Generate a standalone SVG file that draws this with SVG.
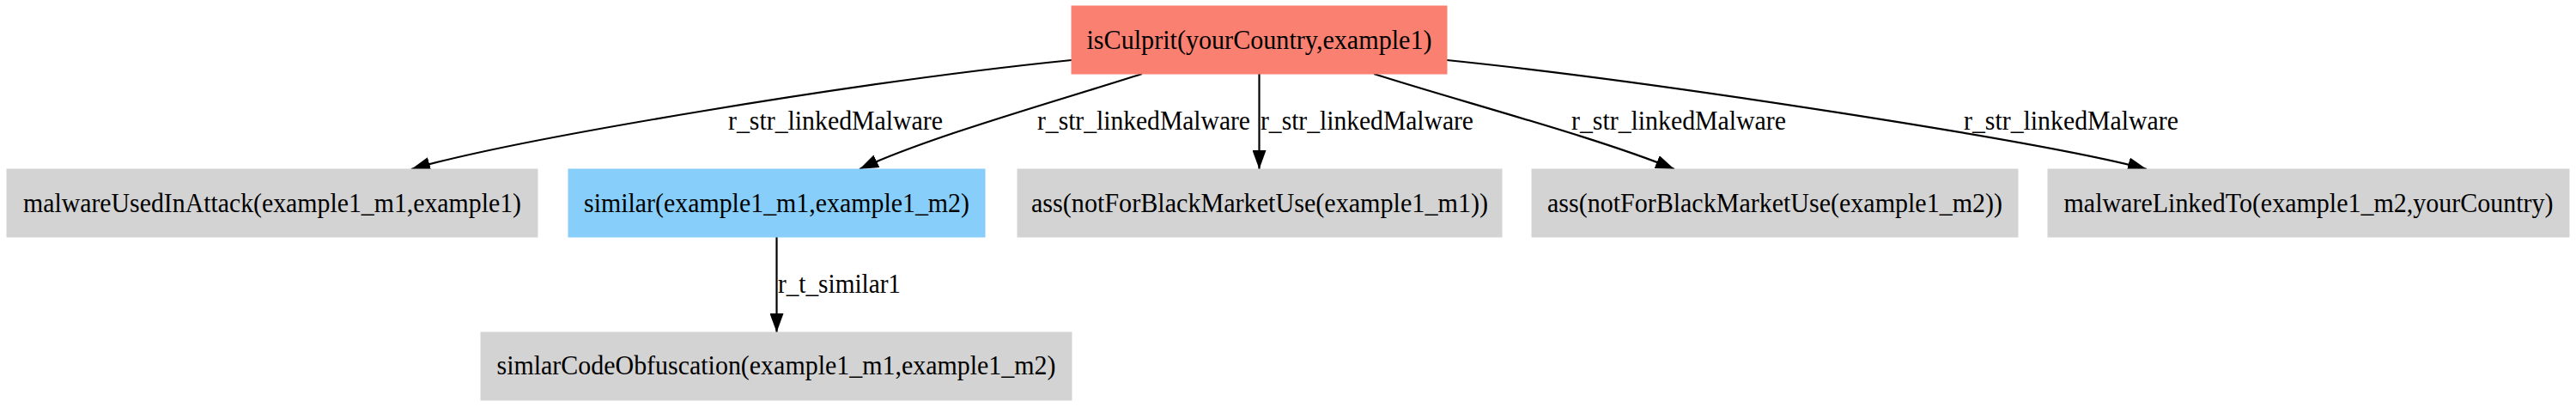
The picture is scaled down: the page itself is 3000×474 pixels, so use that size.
<svg xmlns="http://www.w3.org/2000/svg" width="3000" height="474" viewBox="0 0 3000 474">
<style>
text{font-family:"Liberation Serif","Times New Roman",serif;font-size:32px;fill:#000}
.n{text-anchor:middle}
.e{fill:none;stroke:#000;stroke-width:2.2}
.gray{fill:#D3D3D3;stroke:#D3D3D3}
</style>
<defs>
<marker id="arr" viewBox="0 0 22 16" refX="22" refY="8" markerWidth="22" markerHeight="16" markerUnits="userSpaceOnUse" orient="auto">
<path d="M0,0 L22,8 L0,16 z" fill="#000"/>
</marker>
</defs>
<rect width="3000" height="474" fill="#fff"/>
<g id="edges">
<path class="e" d="M1248,70 C1000,95 600,162 479,197" marker-end="url(#arr)"/>
<path class="e" d="M1330,86 C1230,118 1080,160 1001,197" marker-end="url(#arr)"/>
<path class="e" d="M1466.5,86 L1466.5,197" marker-end="url(#arr)"/>
<path class="e" d="M1600,86 C1700,118 1860,160 1950,197" marker-end="url(#arr)"/>
<path class="e" d="M1685,70 C1930,95 2380,165 2500,197" marker-end="url(#arr)"/>
<path class="e" d="M904.5,276 L904.5,387" marker-end="url(#arr)"/>
<text x="848" y="151" textLength="250" lengthAdjust="spacingAndGlyphs">r_str_linkedMalware</text>
<text x="1208" y="151" textLength="248" lengthAdjust="spacingAndGlyphs">r_str_linkedMalware</text>
<text x="1468" y="151" textLength="248" lengthAdjust="spacingAndGlyphs">r_str_linkedMalware</text>
<text x="1830" y="151" textLength="250" lengthAdjust="spacingAndGlyphs">r_str_linkedMalware</text>
<text x="2287" y="151" textLength="250" lengthAdjust="spacingAndGlyphs">r_str_linkedMalware</text>
<text x="906" y="341" textLength="143" lengthAdjust="spacingAndGlyphs">r_t_similar1</text>
</g>
<g id="isCulprit">
<rect x="1248" y="7" width="437" height="79" fill="#FA8072" stroke="#FA8072"/>
<text class="n" x="1466.5" y="57" textLength="402" lengthAdjust="spacingAndGlyphs">isCulprit(yourCountry,example1)</text>
</g>
<g id="malwareUsedInAttack">
<rect class="gray" x="8" y="197" width="618" height="79"/>
<text class="n" x="317" y="247" textLength="580" lengthAdjust="spacingAndGlyphs">malwareUsedInAttack(example1_m1,example1)</text>
</g>
<g id="similar">
<rect x="662" y="197" width="485" height="79" fill="#87CEFA" stroke="#87CEFA"/>
<text class="n" x="904.5" y="247" textLength="449" lengthAdjust="spacingAndGlyphs">similar(example1_m1,example1_m2)</text>
</g>
<g id="ass1">
<rect class="gray" x="1185" y="197" width="564" height="79"/>
<text class="n" x="1467" y="247" textLength="532" lengthAdjust="spacingAndGlyphs">ass(notForBlackMarketUse(example1_m1))</text>
</g>
<g id="ass2">
<rect class="gray" x="1784" y="197" width="566" height="79"/>
<text class="n" x="2067" y="247" textLength="530" lengthAdjust="spacingAndGlyphs">ass(notForBlackMarketUse(example1_m2))</text>
</g>
<g id="malwareLinkedTo">
<rect class="gray" x="2385" y="197" width="607" height="79"/>
<text class="n" x="2688.5" y="247" textLength="570" lengthAdjust="spacingAndGlyphs">malwareLinkedTo(example1_m2,yourCountry)</text>
</g>
<g id="simlarCodeObfuscation">
<rect class="gray" x="560" y="387" width="688" height="79"/>
<text class="n" x="904" y="436" textLength="651" lengthAdjust="spacingAndGlyphs">simlarCodeObfuscation(example1_m1,example1_m2)</text>
</g>
</svg>
